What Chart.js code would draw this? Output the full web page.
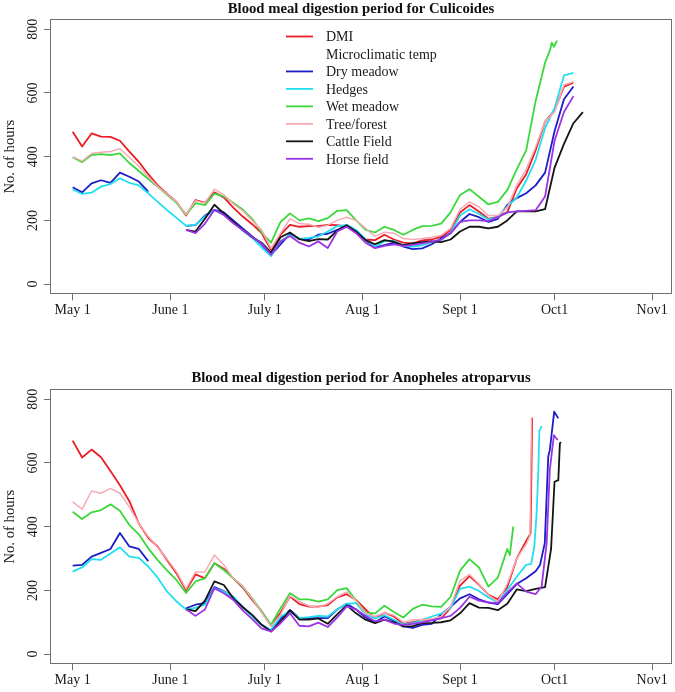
<!DOCTYPE html>
<html>
<head>
<meta charset="utf-8">
<script src="https://cdn.jsdelivr.net/npm/chart.js@4.4.1/dist/chart.umd.min.js"></script>
<style>
  body { margin: 0; background: #fff; }
  canvas { display: block; }
</style>
</head>
<body>
<canvas id="culicoidesChart" width="675" height="346"></canvas>
<canvas id="anophelesChart" width="675" height="346"></canvas>
<script>
// x axis: days counted from May 1
var tickDays = [0, 31, 61, 92, 123, 153, 184];
var tickLabels = ['May 1', 'June 1', 'July 1', 'Aug 1', 'Sept 1', 'Oct1', 'Nov1'];
var hourTicks = [0, 200, 400, 600, 800];
var legendNames = ['DMI', 'Microclimatic temp', 'Dry meadow', 'Hedges', 'Wet meadow', 'Tree/forest', 'Cattle Field', 'Horse field'];

var days = [0, 3, 6, 9, 12, 15, 18, 21, 24, 27, 30, 33, 36, 39, 42, 45, 48, 51, 54, 57, 60, 63, 66, 69, 72, 75, 78, 81,
  84, 87, 90, 93, 96, 99, 102, 105, 108, 111, 114, 117, 120, 123, 126, 129, 132, 135, 138, 141, 144, 147, 150, 153, 156, 159, 162];

// Culicoides (hours), one value per entry of days
var culDmi = [478, 432, 473, 463, 462, 450, 416, 384, 345, 310, 283, 258, 215, 264, 256, 288, 272, 240, 212, 188, 160, 108, 155, 186, 180, 182, 182, 186,
  185, 180, 165, 140, 138, 155, 140, 130, 128, 137, 140, 148, 170, 225, 248, 228, 205, 212, 225, 300, 345, 420, 510, 545, 620, 632, null];
var culDry = [304, 288, 316, 326, 318, 350, 337, 322, 290, null, null, null, 183, 185, 215, 233, 225, 200, 175, 150, 125, 92, 125, 158, 142, 140, 155, 158,
  170, 185, 168, 138, 115, 122, 130, 118, 110, 112, 125, 143, 160, 195, 220, 210, 195, 205, 248, 270, 285, 310, 350, 480, 580, 620, null];
var culHedges = [298, 283, 287, 306, 314, 332, 318, 310, 285, 258, 232, 208, 183, 186, 212, 232, 218, 195, 168, 145, 115, 88, 135, 154, 142, 145, 150, 165,
  182, 186, 170, 140, 118, 135, 136, 122, 118, 122, 132, 138, 160, 215, 235, 220, 203, 210, 243, 272, 325, 390, 490, 552, 655, 663, null];
var culWet = [398, 383, 405, 408, 405, 410, 380, 355, 330, 305, 280, 255, 218, 254, 248, 284, 275, 255, 234, 205, 162, 130, 195, 222, 200, 206, 198, 207,
  230, 232, 200, 170, 162, 180, 170, 155, 170, 182, 183, 190, 225, 280, 298, 274, 250, 258, 295, 360, 420, 575, 695, null, null, null, null];
var culWetTail = [[151.6, 735], [152.1, 758], [152.8, 745], [153.8, 764]];
var culTree = [400, 386, 410, 414, 416, 425, 398, 370, 338, 306, 282, 258, 218, 262, 255, 298, 280, 252, 230, 200, 170, 112, 160, 205, 190, 188, 178, 185,
  200, 210, 200, 175, 150, 163, 160, 143, 140, 143, 147, 153, 175, 235, 258, 242, 215, 215, 240, 310, 360, 430, 510, 540, 625, 635, null];
var culCattle = [null, null, null, null, null, null, null, null, null, null, null, null, 170, 165, 205, 249, 222, 196, 170, 147, 130, 99, 147, 162, 141, 135, 141, 140,
  168, 185, 165, 138, 125, 138, 133, 122, 128, 132, 134, 132, 140, 165, 180, 180, 175, 180, 200, 228, 228, 228, 235, 365, 440, 505, 540];
var culHorse = [null, null, null, null, null, null, null, null, null, null, null, null, 170, 160, 190, 233, 217, 191, 170, 147, 128, 92, 134, 151, 130, 118, 134, 113,
  165, 180, 160, 130, 113, 120, 125, 120, 123, 128, 133, 140, 160, 195, 200, 200, 198, 210, 225, 228, 230, 232, 275, 450, 540, 590, null];

// Anopheles atroparvus (hours)
var anoDmi = [670, 617, 642, 618, 575, 530, 480, 410, 365, 337, 295, 253, 200, 250, 238, 285, 268, 238, 209, 170, 134, 89, 130, 181, 157, 149, 149, 154,
  178, 188, 170, 140, 112, 130, 118, 95, 100, 108, 108, 112, 145, 215, 245, 218, 186, 172, 210, 300, 355, null, null, null, null, null, null];
var anoDmiTail = [[145.4, 379], [145.9, 742]];
var anoDry = [278, 280, 306, 318, 330, 380, 338, 330, 292, null, null, null, 144, 155, 160, 210, 198, 178, 148, 120, 92, 72, 110, 139, 113, 113, 113, 113,
  140, 158, 140, 115, 100, 118, 105, 87, 82, 92, 95, 125, 148, 175, 188, 172, 162, 157, 188, 220, 238, 260, null, null, null, null, null];
var anoDryTail = [[148.4, 280], [149.9, 348], [151, 620], [151.5, 640], [152.9, 761], [154.2, 740]];
var anoHedges = [259, 272, 298, 296, 316, 335, 306, 302, 275, 240, 196, 165, 140, 145, 155, 207, 196, 181, 147, 118, 92, 76, 118, 134, 113, 116, 120, 118,
  140, 158, 160, 125, 112, 122, 108, 93, 97, 107, 118, 127, 145, 205, 212, 198, 178, 163, 201, 243, 280, null, null, null, null, null, null];
var anoHedgesTail = [[145.6, 283], [146.6, 340], [147.3, 440], [147.8, 560], [148.2, 700], [148.9, 716]];
var anoWet = [447, 424, 445, 452, 470, 450, 405, 376, 332, 295, 262, 232, 192, 228, 238, 285, 264, 238, 212, 175, 134, 92, 144, 191, 172, 172, 165, 172,
  201, 207, 168, 130, 128, 152, 132, 115, 142, 155, 150, 148, 180, 262, 298, 272, 212, 240, 330, null, null, null, null, null, null, null, null];
var anoWetTail = [[138.8, 311], [139.9, 400]];
var anoTree = [478, 455, 512, 505, 520, 505, 462, 410, 369, 335, 298, 258, 205, 258, 258, 311, 280, 238, 214, 175, 130, 87, 123, 183, 165, 151, 147, 158,
  180, 195, 168, 128, 118, 130, 122, 100, 108, 108, 110, 118, 150, 230, 250, 220, 185, 165, 220, 300, 345, null, null, null, null, null, null];
var anoTreeTail = [[145.2, 372], [145.7, 742]];
var anoCattle = [null, null, null, null, null, null, null, null, null, null, null, null, 141, 135, 168, 228, 217, 175, 147, 123, 92, 71, 102, 137, 108, 108, 112, 95,
  125, 153, 128, 108, 97, 108, 100, 87, 88, 97, 98, 100, 106, 128, 160, 146, 145, 138, 158, 203, 198, 205, 210, null, null, null, null];
var anoCattleTail = [[151.9, 330], [153, 541], [154.2, 546], [154.7, 661], [155, 666]];
var anoHorse = [null, null, null, null, null, null, null, null, null, null, null, null, 141, 120, 140, 207, 191, 170, 137, 110, 81, 71, 97, 128, 89, 87, 99, 85,
  115, 150, 140, 120, 103, 108, 96, 92, 95, 100, 106, 113, 120, 145, 180, 168, 162, 160, 193, 222, 196, 188, null, null, null, null, null];
var anoHorseTail = [[148.9, 212], [150.5, 348], [151.5, 578], [152.8, 687], [154, 672]];

var serif = '"Liberation Serif", "Times New Roman", serif';
var axisGray = '#6f6f6f';
// DMI, Dry meadow, Hedges, Wet meadow, Tree/forest, Cattle Field, Horse field
var lineColors = ['#ec1c24', '#1c1cc8', '#22dff0', '#3bd83b', '#f6aab4', '#141414', '#9b33e8'];
var legendColors = ['#ec1c24', null, '#1c1cc8', '#22dff0', '#3bd83b', '#f6aab4', '#141414', '#9b33e8'];

function buildPoints(vals, tail) {
  var last = vals.length - 1;
  while (last >= 0 && vals[last] === null) last--;
  var pts = [];
  for (var i = 0; i <= last; i++) {
    pts.push({ x: days[i], y: vals[i] });
  }
  (tail || []).forEach(function (p) {
    pts.push({ x: p[0], y: p[1] });
  });
  return pts;
}

var rFrame = {
  id: 'rFrame',
  afterDraw: function (chart, args, opts) {
    var ctx = chart.ctx;
    var a = chart.chartArea;
    var yScale = chart.scales.y;
    ctx.save();
    ctx.strokeStyle = axisGray;
    ctx.lineWidth = 1;
    ctx.strokeRect(Math.round(a.left) + 0.5, Math.round(a.top) + 0.5,
      Math.round(a.right) - Math.round(a.left) - 1, Math.round(a.bottom) - Math.round(a.top) - 1);

    // rotated y tick labels, R style
    ctx.fillStyle = '#1a1a1a';
    ctx.font = '14px ' + serif;
    ctx.textAlign = 'center';
    ctx.textBaseline = 'alphabetic';
    hourTicks.forEach(function (v) {
      ctx.save();
      ctx.translate(a.left - 12.7, yScale.getPixelForValue(v));
      ctx.rotate(-Math.PI / 2);
      ctx.fillText(String(v), 0, 0);
      ctx.restore();
    });

    if (opts.legend) {
      ctx.textAlign = 'left';
      ctx.textBaseline = 'middle';
      legendNames.forEach(function (name, i) {
        var y = 37.7 + i * 17.47;
        if (legendColors[i]) {
          ctx.strokeStyle = legendColors[i];
          ctx.lineWidth = 1.8;
          ctx.beginPath();
          ctx.moveTo(286, y - 1.2);
          ctx.lineTo(313, y - 1.2);
          ctx.stroke();
        }
        ctx.fillStyle = '#1a1a1a';
        ctx.fillText(name, 326, y);
      });
    }
    ctx.restore();
  }
};

function makeChart(id, title, series, layout) {
  var datasets = series.map(function (s, i) {
    return {
      label: s.name,
      data: buildPoints(s.vals, s.tail),
      borderColor: lineColors[i],
      borderWidth: i === 4 ? 1.5 : 1.8,
      pointRadius: 0,
      tension: 0,
      fill: false,
      borderJoinStyle: 'round',
      order: series.length - i
    };
  });

  return new Chart(document.getElementById(id).getContext('2d'), {
    type: 'line',
    data: { datasets: datasets },
    plugins: [rFrame],
    options: {
      responsive: false,
      animation: false,
      events: [],
      layout: { padding: { left: 0, right: 3, top: 0, bottom: 0 } },
      plugins: {
        legend: { display: false },
        tooltip: { enabled: false },
        title: {
          display: true,
          text: title,
          fullSize: false,
          color: '#111',
          font: { family: serif, size: 14.7, weight: 'bold' },
          padding: { top: layout.titleTop, bottom: layout.titleBottom }
        },
        rFrame: { legend: layout.legend }
      },
      scales: {
        x: {
          type: 'linear',
          min: -7.2,
          max: 190.3,
          afterBuildTicks: function (scale) {
            scale.ticks = tickDays.map(function (d) { return { value: d }; });
          },
          afterFit: function (scale) {
            scale.height = layout.axisHeight;
          },
          ticks: {
            autoSkip: false,
            maxRotation: 0,
            minRotation: 0,
            padding: 2,
            color: '#1a1a1a',
            font: { family: serif, size: 14 },
            callback: function (value) {
              return tickLabels[tickDays.indexOf(value)];
            }
          },
          grid: { drawOnChartArea: false, tickLength: 6, color: axisGray },
          border: { display: false }
        },
        y: {
          type: 'linear',
          min: -32,
          max: 832,
          afterBuildTicks: function (scale) {
            scale.ticks = hourTicks.map(function (v) { return { value: v }; });
          },
          afterFit: function (scale) {
            scale.width = 50;
          },
          ticks: { display: false },
          grid: { drawOnChartArea: false, tickLength: 6, color: axisGray },
          border: { display: false },
          title: {
            display: true,
            text: 'No. of hours',
            color: '#1a1a1a',
            font: { family: serif, size: 14.7 },
            padding: { top: 1.2, bottom: 0 }
          }
        }
      }
    }
  });
}

makeChart('culicoidesChart', 'Blood meal digestion period for Culicoides', [
  { name: 'DMI', vals: culDmi },
  { name: 'Dry meadow', vals: culDry },
  { name: 'Hedges', vals: culHedges },
  { name: 'Wet meadow', vals: culWet, tail: culWetTail },
  { name: 'Tree/forest', vals: culTree },
  { name: 'Cattle Field', vals: culCattle },
  { name: 'Horse field', vals: culHorse }
], { titleTop: 0, titleBottom: 1.4, axisHeight: 51.7, legend: true });

makeChart('anophelesChart', 'Blood meal digestion period for Anopheles atroparvus', [
  { name: 'DMI', vals: anoDmi, tail: anoDmiTail },
  { name: 'Dry meadow', vals: anoDry, tail: anoDryTail },
  { name: 'Hedges', vals: anoHedges, tail: anoHedgesTail },
  { name: 'Wet meadow', vals: anoWet, tail: anoWetTail },
  { name: 'Tree/forest', vals: anoTree, tail: anoTreeTail },
  { name: 'Cattle Field', vals: anoCattle, tail: anoCattleTail },
  { name: 'Horse field', vals: anoHorse, tail: anoHorseTail }
], { titleTop: 22.9, titleBottom: 2.5, axisHeight: 27.7, legend: false });
</script>
</body>
</html>
